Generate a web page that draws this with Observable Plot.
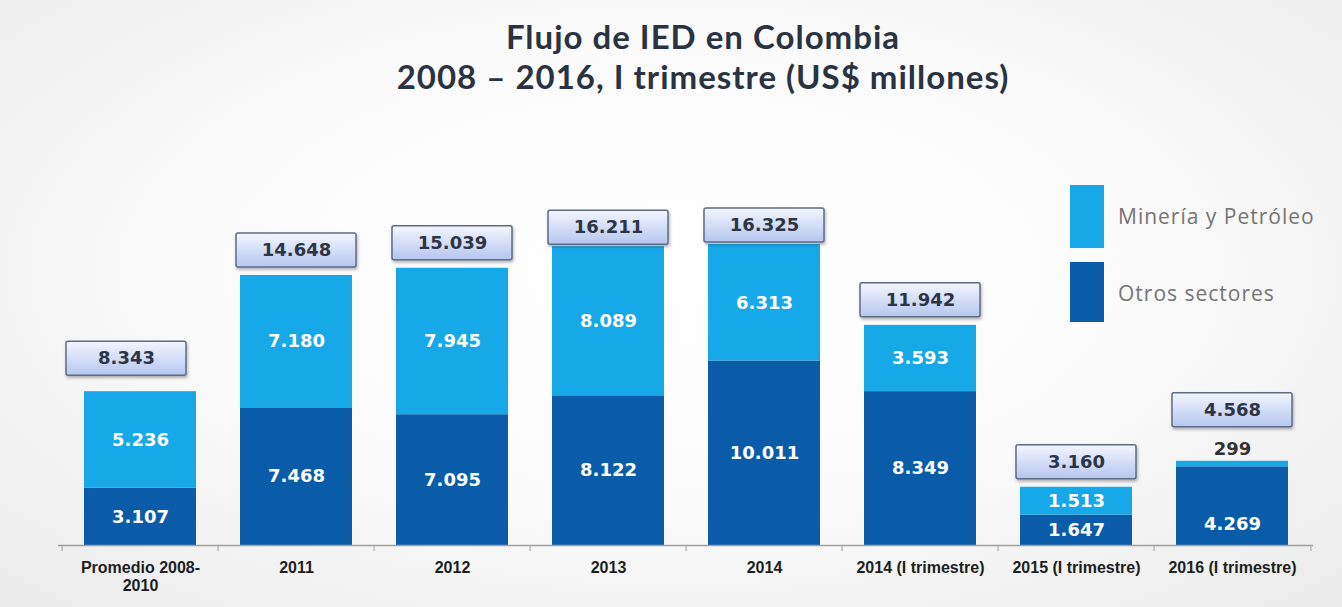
<!DOCTYPE html>
<html><head><meta charset="utf-8">
<script src="https://cdn.jsdelivr.net/npm/d3@7"></script>
<script src="https://cdn.jsdelivr.net/npm/@observablehq/plot@0.6"></script>
<style>
html,body{margin:0;padding:0;}
body{width:1342px;height:607px;overflow:hidden;position:relative;
  background:radial-gradient(ellipse 75% 80% at 50% 45%, #ffffff 0%, #fafafa 50%, #e9e9e9 100%);}
#title{height:100px;box-sizing:border-box;padding-top:16px;padding-left:64px;text-align:center;
  font-family:Lato,"Open Sans",sans-serif;font-weight:700;font-size:33px;letter-spacing:1px;line-height:40px;color:#2a3342;}
#chart svg{display:block;background:transparent;}
.leg-sw{position:absolute;left:1070px;width:34px;}
.leg-tx{position:absolute;left:1118px;font-family:"Open Sans",Lato,sans-serif;font-size:21px;letter-spacing:1px;color:#747474;line-height:24px;}
</style></head>
<body>
<div id="title">Flujo de IED en Colombia<br>2008 – 2016, I trimestre (US$ millones)</div>
<div id="chart"></div>
<div class="leg-sw" id="sw0" style="top:185px;height:63px;"></div>
<div class="leg-tx" id="tx0" style="top:204px;"></div>
<div class="leg-sw" id="sw1" style="top:262px;height:60px;"></div>
<div class="leg-tx" id="tx1" style="top:281px;"></div>
<script>
const categories = ["Promedio 2008-2010","2011","2012","2013","2014","2014 (I trimestre)","2015 (I trimestre)","2016 (I trimestre)"];
const tickLabels = ["Promedio 2008-\n2010","2011","2012","2013","2014","2014 (I trimestre)","2015 (I trimestre)","2016 (I trimestre)"];
const mineria = [5236, 7180, 7945, 8089, 6313, 3593, 1513, 299];
const otros   = [3107, 7468, 7095, 8122, 10011, 8349, 1647, 4269];
const totals  = [8343, 14648, 15039, 16211, 16325, 11942, 3160, 4568];
const sectors = ["Minería y Petróleo", "Otros sectores"];
const colors  = ["#17a8e8", "#0b5ca8"];

const fmt = d3.formatLocale({decimal: ",", thousands: ".", grouping: [3], currency: ["$", ""]}).format(",");

// legend
sectors.forEach((s, i) => {
  document.getElementById("sw" + i).style.background = colors[i];
  document.getElementById("tx" + i).textContent = s;
});

const rows = categories.flatMap((c, i) => [
  {cat: c, sector: sectors[1], value: otros[i]},
  {cat: c, sector: sectors[0], value: mineria[i]}
]);
const last = categories[categories.length - 1];
const labelRows = rows.filter(d => d.cat !== last);
const totRows = categories.map((c, i) => ({cat: c, total: totals[i], min: mineria[i], otr: otros[i]}));
const lastRow = totRows.filter(d => d.cat === last);

const H = 34;
const valueFont = {fontFamily: "DejaVu Sans", fontWeight: "bold", fontSize: 18};
function boxes(data, gap, dx = 0) {
  return [
    Plot.barY(data, {x: "cat", y1: "total", y2: "total", insetTop: -(gap + H), insetBottom: gap,
      insetLeft: -4, insetRight: -4, dx, fill: "url(#boxGrad)", stroke: "#5d6c86", strokeWidth: 1.5, rx: 2}),
    Plot.text(data, {x: "cat", y: "total", text: d => fmt(d.total), dy: -(gap + H / 2), dx,
      fill: "#2d3547", ...valueFont})
  ];
}

const step = (1342 - 58 - 29) / categories.length;

const chart = Plot.plot({
  width: 1342,
  height: 507,
  marginLeft: 58,
  marginRight: 29,
  marginTop: 21,
  marginBottom: 62,
  style: {background: "transparent", overflow: "visible"},
  x: {domain: categories, paddingInner: 0.285, paddingOuter: 0.1425, label: null},
  y: {domain: [0, 23000], axis: null},
  color: {domain: sectors, range: colors},
  marks: [
    Plot.barY(rows, {x: "cat", y: "value", fill: "sector"}),
    Plot.text(labelRows, Plot.stackY({x: "cat", y: "value", text: d => fmt(d.value), fill: "white", ...valueFont})),
    Plot.text(lastRow, {x: "cat", y: "total", text: d => fmt(d.min), dy: -12, fill: "#333", ...valueFont}),
    Plot.text(lastRow, {x: "cat", y: d => d.otr / 2, text: d => fmt(d.otr), dy: 18, fill: "white", ...valueFont}),
    ...boxes(totRows.filter((d, i) => i === 0), 16, -14),
    ...boxes(totRows.filter((d, i) => i === 3 || i === 4), 2),
    ...boxes(totRows.filter((d, i) => i === 1 || i === 2 || i === 5 || i === 6), 8),
    ...boxes(lastRow, 34),
    Plot.ruleY([0], {stroke: "#a0a0a0", strokeWidth: 1.5}),
    Plot.ruleX(categories, {x: d => d, y1: 0, y2: 0, insetBottom: -6, dx: -step / 2, stroke: "#a0a0a0"}),
    Plot.ruleX([last], {x: d => d, y1: 0, y2: 0, insetBottom: -6, dx: step / 2, stroke: "#a0a0a0"}),
    Plot.axisX({tickSize: 0, tickPadding: 14, tickFormat: (d, i) => tickLabels[categories.indexOf(d)],
      fontFamily: "Liberation Sans", fontWeight: "bold", fontSize: 16, fill: "#1e1e1e", lineHeight: 1.15})
  ]
});

const svg = d3.select(chart);
const defs = svg.insert("defs", ":first-child");
const g = defs.append("linearGradient").attr("id", "boxGrad").attr("x1", 0).attr("y1", 0).attr("x2", 0).attr("y2", 1);
g.append("stop").attr("offset", "0%").attr("stop-color", "#f4f6ff");
g.append("stop").attr("offset", "100%").attr("stop-color", "#b6c6f0");
const f = defs.append("filter").attr("id", "sh").attr("x", "-10%").attr("y", "-20%").attr("width", "130%").attr("height", "160%");
f.append("feDropShadow").attr("dx", 1).attr("dy", 2).attr("stdDeviation", 1.5).attr("flood-color", "#000").attr("flood-opacity", 0.3);
svg.selectAll("g[fill='url(#boxGrad)']").attr("filter", "url(#sh)");
document.getElementById("chart").appendChild(chart);
</script>
</body></html>
